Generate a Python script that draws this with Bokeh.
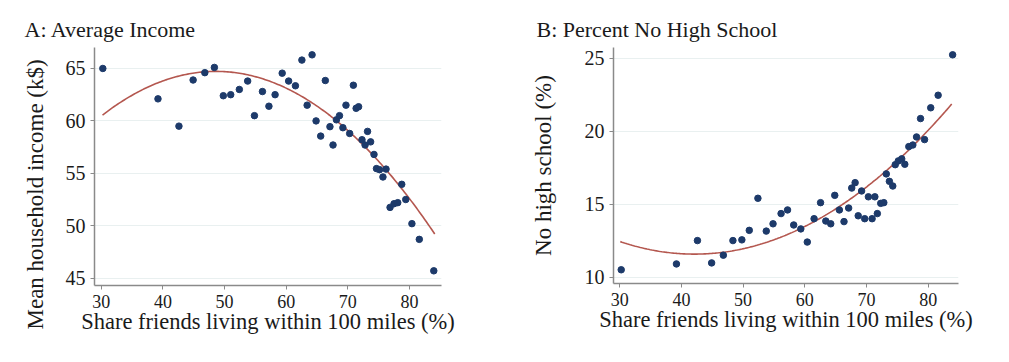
import numpy as np
from bokeh.plotting import figure
from bokeh.layouts import row
from bokeh.models import Range1d, FixedTicker, Title
from bokeh.embed import file_html
from bokeh.resources import INLINE

# ---- data ----
share_friends = [30.25, 39.2, 42.6, 44.9, 46.8, 48.35, 49.8, 51.0, 52.4, 53.75,
                 54.85, 56.15, 57.2, 58.2, 59.35, 60.4, 61.5, 62.55, 63.4, 64.2,
                 64.85, 65.6, 66.35, 67.1, 67.6, 68.15, 68.65, 69.2, 69.7, 70.3,
                 70.9, 71.35, 71.75, 72.3, 72.8, 73.2, 73.7, 74.25, 74.65, 75.15,
                 75.7, 76.2, 76.85, 77.5, 78.1, 78.75, 79.4, 80.4, 81.6, 83.95]

mean_income = [65.0, 62.1, 59.5, 63.9, 64.6, 65.1, 62.4, 62.5, 63.0, 63.8,
               60.5, 62.8, 61.4, 62.5, 64.55, 63.8, 63.35, 65.8, 61.5, 66.3,
               60.0, 58.55, 63.85, 59.45, 57.7, 60.1, 60.5, 59.35, 61.5, 58.8,
               63.4, 61.2, 61.35, 58.2, 57.7, 59.0, 58.0, 56.8, 55.45, 55.35,
               54.65, 55.4, 51.75, 52.1, 52.2, 53.95, 52.5, 50.2, 48.7, 45.7]

no_high_school = [10.5, 10.9, 12.5, 10.97, 11.5, 12.5, 12.55, 13.2, 15.4, 13.15,
                  13.65, 14.35, 14.6, 13.57, 13.3, 12.4, 14.0, 15.1, 13.84, 13.65,
                  15.6, 14.6, 13.8, 14.73, 16.1, 16.47, 14.2, 15.9, 14.0, 15.5,
                  14.0, 15.5, 14.35, 15.05, 15.1, 17.07, 16.56, 16.24, 17.7, 17.96,
                  18.1, 17.73, 18.94, 19.05, 19.6, 20.86, 19.42, 21.6, 22.46, 25.23]

# quadratic fit lines
fit_x_income = [30.2, 47.5, 52.35, 59.4, 69.2, 74.6, 80.0, 84.1]
fit_y_income = [60.65, 64.6, 64.4, 63.2, 59.7, 56.7, 52.55, 49.0]
fit_x_nohs = [30.1, 42.6, 50.0, 54.5, 60.0, 70.0, 76.2, 80.0, 83.8]
fit_y_nohs = [12.4, 11.62, 12.0, 12.4, 13.54, 16.0, 18.5, 20.17, 21.8]

x_ticks = [30, 40, 50, 60, 70, 80]
income_ticks = [45, 50, 55, 60, 65]
nohs_ticks = [10, 15, 20, 25]

POINT = "#1d3a6a"
FIT = "#b4574f"
AXIS = "#8a8a8a"
GRID = "#e9f0f0"
TEXT = "#1a1a1a"
FONT = "'Liberation Serif', serif"


def smooth_fit(x, y):
    c = np.polyfit(x, y, 2)
    xs = np.linspace(min(x), max(x), 200)
    return xs, np.polyval(c, xs)


def panel(title, y, yticks, fx, fy, xr, yr, fw, fh, bl, br, t_off):
    p = figure(frame_width=fw, frame_height=fh, x_range=Range1d(*xr), y_range=Range1d(*yr),
               output_backend="svg", toolbar_location=None,
               min_border_left=bl, min_border_right=br, min_border_top=47, min_border_bottom=60)
    p.outline_line_color = None
    p.background_fill_color = "white"
    p.title.text = title
    p.title.text_font = FONT
    p.title.text_font_size = "22px"
    p.title.text_font_style = "normal"
    p.title.text_color = TEXT
    p.title.align = "left"
    p.title.offset = t_off
    p.title.standoff = 12

    p.xgrid.visible = False
    p.ygrid.grid_line_color = GRID
    p.ygrid.grid_line_width = 1.2
    p.ygrid.ticker = FixedTicker(ticks=yticks)

    for ax in (p.xaxis[0], p.yaxis[0]):
        ax.axis_line_color = AXIS
        ax.axis_line_width = 1.5
        ax.major_tick_line_color = AXIS
        ax.major_tick_in = 0
        ax.major_tick_out = 4
        ax.minor_tick_line_color = None
        ax.major_label_text_font = FONT
        ax.major_label_text_color = TEXT
        ax.axis_label_text_font = FONT
        ax.axis_label_text_font_style = "normal"
        ax.axis_label_text_color = TEXT
        ax.major_label_standoff = 5

    p.xaxis.ticker = FixedTicker(ticks=x_ticks)
    p.xaxis.axis_label = "Share friends living within 100 miles (%)"
    p.xaxis.axis_label_text_font_size = "22.5px"
    p.xaxis.major_label_text_font_size = "18px"
    p.xaxis.axis_label_standoff = -2

    p.yaxis.ticker = FixedTicker(ticks=yticks)
    p.yaxis.major_label_text_font_size = "20px"

    xs, ys = smooth_fit(fx, fy)
    p.line(xs, ys, line_color=FIT, line_width=1.6)
    p.scatter(share_friends, y, size=6.5, color=POINT, line_color=POINT)
    return p


pA = panel("A: Average Income", mean_income, income_ticks, fit_x_income, fit_y_income,
           (28.9, 85.2), (44.3, 67.0), 347, 238, 94, 80, -70)
# y label of panel A sits lower than the frame centre in the reference
pA.add_layout(Title(text="Mean household income (k$)", align="left", offset=-44,
                    standoff=30, text_font=FONT, text_font_size="23px",
                    text_font_style="normal", text_color=TEXT), "left")

pB = panel("B: Percent No High School", no_high_school, nohs_ticks, fit_x_nohs, fit_y_nohs,
           (29.0, 84.9), (9.56, 25.73), 345, 236, 92, 30, -77)
pB.yaxis.axis_label = "No high school (%)"
pB.yaxis.axis_label_text_font_size = "23px"
pB.yaxis.axis_label_standoff = 26

layout = row(pA, pB)
open("out.html", "w").write(file_html(layout, INLINE))
